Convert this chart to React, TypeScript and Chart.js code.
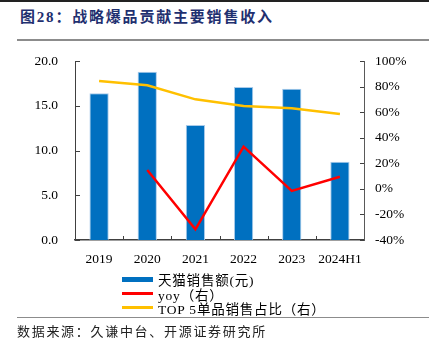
import React, { useEffect, useRef } from "react";
import { Chart, registerables } from "chart.js";

Chart.register(...registerables);

const categories = ["2019", "2020", "2021", "2022", "2023", "2024H1"];
const salesValues = [16.4, 18.8, 12.85, 17.1, 16.9, 8.75];
const yoyValues = [null, 14.8, -31.6, 33, -1.6, 9.5];
const top5Share = [84.4, 81, 70, 64.8, 63, 58.6];
const leftTickValues = [0, 5, 10, 15, 20];
const rightTickValues = [-40, -20, 0, 20, 40, 60, 80, 100];

const seriesNames = ["天猫销售额(元)", "yoy（右）", "TOP 5单品销售占比（右）"];
const titleText = "图28：战略爆品贡献主要销售收入";
const sourceText = "数据来源：久谦中台、开源证券研究所";

const BLUE = "#0070C0";
const RED = "#FF0000";
const YELLOW = "#FFC000";
const AXIS = "#404040";
const FONT = "'Liberation Serif', 'Noto Sans CJK SC', serif";

const innerTicks = {
  id: "innerTicks",
  afterDraw(chart: any) {
    const { ctx, chartArea, scales } = chart;
    ctx.save();
    ctx.strokeStyle = AXIS;
    ctx.lineWidth = 1;
    ctx.beginPath();
    scales.y.ticks.forEach((t: any) => {
      const py = Math.round(scales.y.getPixelForValue(t.value)) + 0.5;
      ctx.moveTo(chartArea.left, py);
      ctx.lineTo(chartArea.left + 5, py);
    });
    scales.y1.ticks.forEach((t: any) => {
      const py = Math.round(scales.y1.getPixelForValue(t.value)) + 0.5;
      ctx.moveTo(chartArea.right - 4, py);
      ctx.lineTo(chartArea.right, py);
    });
    const n = categories.length;
    for (let i = 1; i < n; i++) {
      const px =
        Math.round(
          (scales.x.getPixelForValue(i - 1) + scales.x.getPixelForValue(i)) / 2
        ) + 0.5;
      ctx.moveTo(px, chartArea.bottom);
      ctx.lineTo(px, chartArea.bottom - 4);
    }
    ctx.stroke();
    ctx.restore();
  },
};

function ChartView() {
  const ref = useRef<HTMLCanvasElement | null>(null);
  useEffect(() => {
    if (!ref.current) return;
    const chart = new Chart(ref.current, {
      type: "bar",
      data: {
        labels: categories,
        datasets: [
          {
            type: "line",
            label: seriesNames[1],
            data: yoyValues as any,
            yAxisID: "y1",
            borderColor: RED,
            backgroundColor: RED,
            borderWidth: 2.5,
            pointRadius: 0,
            tension: 0,
            order: 0,
          },
          {
            type: "line",
            label: seriesNames[2],
            data: top5Share,
            yAxisID: "y1",
            borderColor: YELLOW,
            backgroundColor: YELLOW,
            borderWidth: 2.5,
            pointRadius: 0,
            tension: 0,
            order: 1,
          },
          {
            type: "bar",
            label: seriesNames[0],
            data: salesValues,
            yAxisID: "y",
            backgroundColor: BLUE,
            borderColor: "#A9CBEA",
            borderWidth: { top: 1, left: 1, right: 1, bottom: 0 },
            barPercentage: 0.4,
            categoryPercentage: 1.0,
            order: 2,
          } as any,
        ],
      },
      options: {
        responsive: false,
        animation: false,
        layout: { padding: { top: 16, left: 0, right: 0, bottom: 0 } },
        plugins: {
          legend: { display: false },
          tooltip: { enabled: false },
        },
        scales: {
          x: {
            offset: true,
            grid: { display: false, drawTicks: false },
            border: { display: true, color: AXIS, width: 1.5 },
            ticks: {
              color: "#000",
              font: { family: FONT, size: 13.5 },
              padding: 11,
              maxRotation: 0,
              autoSkip: false,
            },
            afterFit(scale: any) {
              scale.height = 35;
              scale.paddingLeft = 0;
              scale.paddingRight = 0;
            },
          },
          y: {
            position: "left",
            min: 0,
            max: 20,
            afterBuildTicks(scale: any) {
              scale.ticks = leftTickValues.map((v) => ({ value: v }));
            },
            grid: { display: false, drawTicks: false },
            border: { display: true, color: AXIS, width: 1 },
            ticks: {
              color: "#000",
              font: { family: FONT, size: 13.5 },
              padding: 17,
              callback: (v: any) => Number(v).toFixed(1),
            },
            afterFit(scale: any) {
              scale.width = 75;
              scale.paddingTop = 8;
              scale.paddingBottom = 8;
            },
          },
          y1: {
            position: "right",
            min: -40,
            max: 100,
            afterBuildTicks(scale: any) {
              scale.ticks = rightTickValues.map((v) => ({ value: v }));
            },
            grid: { display: false, drawTicks: false },
            border: { display: true, color: "#595959", width: 1 },
            ticks: {
              color: "#000",
              font: { family: FONT, size: 13.5 },
              padding: 11,
              callback: (v: any) => `${v}%`,
            },
            afterFit(scale: any) {
              scale.width = 65;
              scale.paddingTop = 8;
              scale.paddingBottom = 8;
            },
          },
        },
      },
      plugins: [innerTicks],
    });
    return () => chart.destroy();
  }, []);
  return (
    <canvas
      ref={ref}
      width={429}
      height={230}
      style={{ position: "absolute", left: 0, top: 45, width: 429, height: 230 }}
    />
  );
}

function LegendRow(props: { kind: "bar" | "line"; color: string; text: string; top: number }) {
  const { kind, color, text, top } = props;
  return (
    <div
      style={{
        position: "absolute",
        left: 122,
        top: top - 9,
        height: 18,
        display: "flex",
        alignItems: "center",
        whiteSpace: "nowrap",
      }}
    >
      <span
        style={{
          display: "inline-block",
          width: 31,
          height: kind === "bar" ? 5 : 2.5,
          background: color,
          marginRight: 5,
        }}
      />
      <span style={{ fontFamily: FONT, fontSize: 13.5, color: "#000", letterSpacing: 0.8 }}>
        {text}
      </span>
    </div>
  );
}

export default function App() {
  return (
    <div
      style={{
        position: "absolute",
        left: 0,
        top: 0,
        width: 429,
        height: 352,
        background: "#fff",
        overflow: "hidden",
      }}
    >
      <div style={{ position: "absolute", left: 0, top: 0, width: 429, height: 1.5, background: "#222" }} />
      <div
        style={{
          position: "absolute",
          left: 20,
          top: 8,
          fontFamily: FONT,
          fontWeight: "bold",
          fontSize: 15,
          letterSpacing: 1.8,
          color: "#1F3070",
          whiteSpace: "nowrap",
          lineHeight: "18px",
        }}
      >
        {titleText}
      </div>
      <div style={{ position: "absolute", left: 17, top: 38.5, width: 412, height: 2, background: "#8C8C8C" }} />
      <ChartView />
      <LegendRow kind="bar" color={BLUE} text={seriesNames[0]} top={279} />
      <LegendRow kind="line" color={RED} text={seriesNames[1]} top={293.5} />
      <LegendRow kind="line" color={YELLOW} text={seriesNames[2]} top={307.5} />
      <div style={{ position: "absolute", left: 17, top: 316.5, width: 412, height: 1.5, background: "#8C8C8C" }} />
      <div
        style={{
          position: "absolute",
          left: 17,
          top: 323,
          fontFamily: FONT,
          fontSize: 13,
          letterSpacing: 1.7,
          color: "#222",
          whiteSpace: "nowrap",
          lineHeight: "17px",
        }}
      >
        {sourceText}
      </div>
    </div>
  );
}
